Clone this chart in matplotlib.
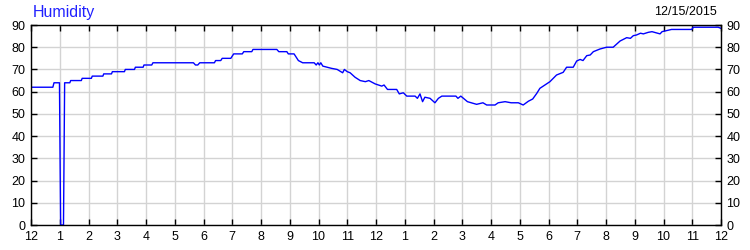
import matplotlib
matplotlib.use('Agg')

import matplotlib.pyplot as plt
import numpy as np

plt.rcParams['font.family'] = ['Liberation Sans', 'DejaVu Sans']

title = "Humidity"
date_label = "12/15/2015"

# hours since midnight, humidity in %
hours = [0, 0.76, 0.8, 0.99, 1.03, 1.13, 1.17, 1.35, 1.38, 1.75, 1.78, 2.1, 2.13,
         2.5, 2.53, 2.8, 2.83, 3.25, 3.28, 3.6, 3.63, 3.9, 3.93, 4.2, 4.24, 5.65,
         5.72, 5.8, 5.87, 6.38, 6.42, 6.6, 6.65, 6.95, 7.05, 7.35, 7.4, 7.68, 7.72,
         8.55, 8.62, 8.9, 8.95, 9.15, 9.3, 9.45, 9.85, 9.92, 9.98, 10.03, 10.08,
         10.15, 10.45, 10.65, 10.84, 10.9, 11.0, 11.1, 11.27, 11.45, 11.63, 11.75,
         11.9, 11.97, 12.2, 12.28, 12.4, 12.72, 12.81, 12.95, 13.07, 13.36, 13.44,
         13.53, 13.62, 13.7, 13.88, 14.05, 14.17, 14.29, 14.78, 14.85, 14.95, 15.18,
         15.5, 15.72, 15.85, 16.14, 16.25, 16.49, 16.7, 16.95, 17.12, 17.3, 17.45,
         17.59, 17.7, 18.05, 18.28, 18.51, 18.63, 18.86, 18.98, 19.1, 19.2, 19.33,
         19.45, 19.56, 19.79, 20.02, 20.25, 20.49, 20.6, 20.72, 20.85, 20.95, 21.06,
         21.2, 21.3, 21.47, 21.6, 21.88, 21.95, 22.28, 22.98, 23.04, 23.9, 24.0]
humidity = [62, 62, 64, 64, 0, 0, 64, 64, 65, 65, 66, 66, 67,
            67, 68, 68, 69, 69, 70, 70, 71, 71, 72, 72, 73, 73,
            72, 72, 73, 73, 74, 74, 75, 75, 77, 77, 78, 78, 79,
            79, 78, 78, 77, 77, 74, 73, 73, 72, 73, 72, 73,
            71.5, 70.5, 70, 68.5, 70, 69, 68.5, 66.5, 65, 64.5, 65,
            64, 63.5, 62.5, 63, 61, 61, 59, 59.5, 58, 58, 57,
            59, 55.5, 57.5, 57, 55, 57, 58, 58, 57, 58, 55.5,
            54.3, 55, 54, 54, 55, 55.5, 55, 55, 54, 55.7, 56.7,
            59.2, 61.5, 64.5, 67.5, 68.7, 71, 71, 73.8, 74.5, 74, 76.2,
            76.5, 78, 79.2, 80, 80, 82.8, 83.5, 84.3, 84, 85.2, 85.5,
            86.3, 86, 86.7, 87, 86, 87, 88, 88, 89, 89, 88.5]

hour_labels = ['12', '1', '2', '3', '4', '5', '6', '7', '8', '9', '10', '11',
               '12', '1', '2', '3', '4', '5', '6', '7', '8', '9', '10', '11', '12']
y_ticks = [0, 10, 20, 30, 40, 50, 60, 70, 80, 90]

fig = plt.figure(figsize=(7.5, 2.5), dpi=100)
ax = fig.add_axes([31 / 750, 0.1, 690 / 750, 0.8])

ax.plot(hours, humidity, color='#0000ff', linewidth=1)

ax.set_xlim(0, 24)
ax.set_ylim(0, 90)
ax.set_xticks(range(25))
ax.set_xticklabels(hour_labels)
ax.set_yticks(y_ticks)

ax.grid(True, color='#d3d3d3', linewidth=1)
ax.set_axisbelow(True)

ax.tick_params(direction='in', length=4, width=1, color='black',
               labelsize=9, top=True, right=True, labelright=True, pad=4)
for s in ax.spines.values():
    s.set_color('black')
    s.set_linewidth(1)

fig.text(33 / 750, 0.952, title, color='#2020ff', fontsize=11.5, va='center', ha='left')
fig.text(717 / 750, 0.952, date_label, color='black', fontsize=9, va='center', ha='right')

plt.savefig('out.png', dpi=100)
